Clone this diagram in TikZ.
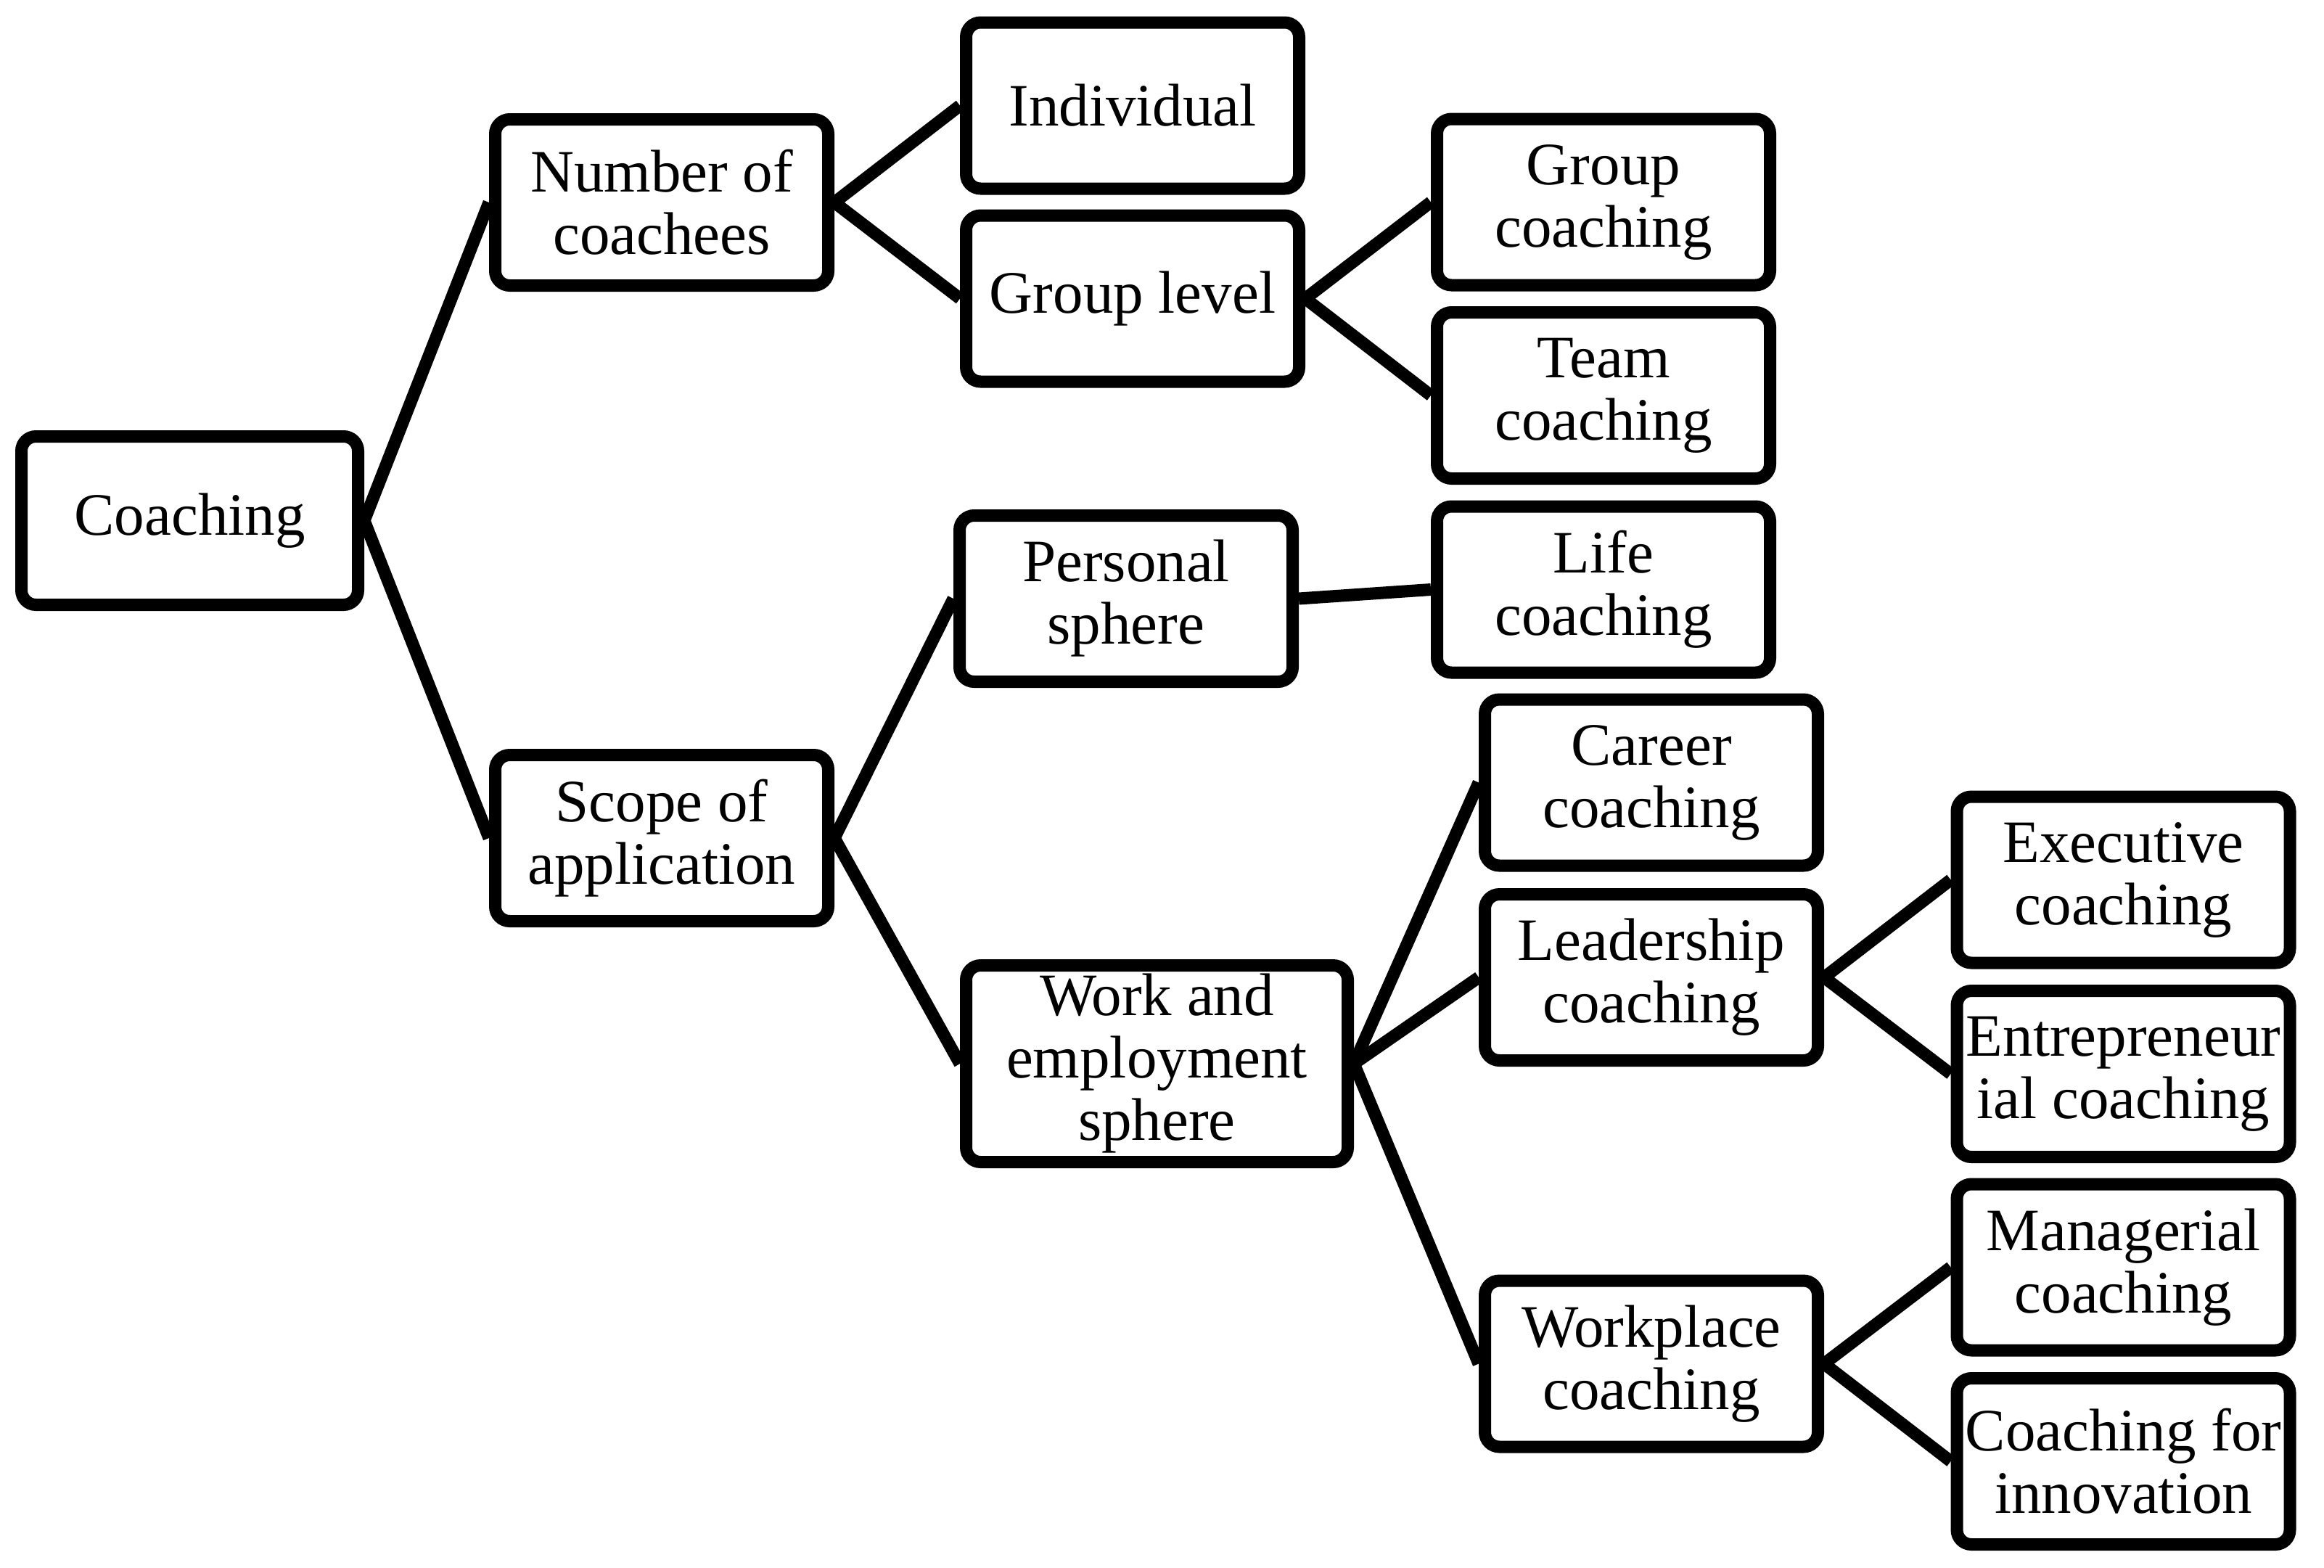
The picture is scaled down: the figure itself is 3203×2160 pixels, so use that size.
\documentclass[tikz,border=0pt]{standalone}
\usepackage{fontspec}
\setmainfont{Liberation Serif}
\begin{document}
\begin{tikzpicture}[x=1pt,y=-1pt,
  box/.style={draw=black, line width=17pt, rounded corners=20pt,
    minimum width=459pt, minimum height=229pt, inner sep=0pt,
    align=center, font=\fontsize{83}{86}\selectfont},
  link/.style={draw=black, line width=17pt}]
\useasboundingbox[fill=white] (0,0) rectangle (3203,2160);
\node[box, minimum width=464pt, minimum height=232pt] (coach) at (261.5,717.5) {Coaching};
\node[box] (num) at (912,279) {Number of\\coachees};
\node[box] (scope) at (912,1155) {Scope of\\application};
\node[box] (indiv) at (1561,145.5) {Individual};
\node[box] (glevel) at (1561,411.5) {Group level};
\node[box] (gcoach) at (2210,278.5) {Group\\coaching};
\node[box] (team) at (2210,545) {Team\\coaching};
\node[box] (pers) at (1552,825) {Personal\\sphere};
\node[box] (life) at (2210,812.5) {Life\\coaching};
\node[box, minimum width=526pt, minimum height=271pt] (work) at (1594.5,1466) {Work and\\employment\\sphere};
\node[box] (career) at (2276,1078.5) {Career\\coaching};
\node[box] (lead) at (2276,1347) {Leadership\\coaching};
\node[box] (wplace) at (2276,1879.5) {Workplace\\coaching};
\node[box] (exec) at (2926.5,1212.5) {Executive\\coaching};
\node[box] (entr) at (2926.5,1480) {Entrepreneur\\ial coaching};
\node[box] (manag) at (2926.5,1746.5) {Managerial\\coaching};
\node[box] (innov) at (2926.5,2014) {Coaching for\\innovation};
\draw[link] (coach.east) -- (num.west);
\draw[link] (coach.east) -- (scope.west);
\draw[link] (num.east) -- (indiv.west);
\draw[link] (num.east) -- (glevel.west);
\draw[link] (glevel.east) -- (gcoach.west);
\draw[link] (glevel.east) -- (team.west);
\draw[link] (scope.east) -- (pers.west);
\draw[link] (scope.east) -- (work.west);
\draw[link] (pers.east) -- (life.west);
\draw[link] (work.east) -- (career.west);
\draw[link] (work.east) -- (lead.west);
\draw[link] (work.east) -- (wplace.west);
\draw[link] (lead.east) -- (exec.west);
\draw[link] (lead.east) -- (entr.west);
\draw[link] (wplace.east) -- (manag.west);
\draw[link] (wplace.east) -- (innov.west);
\end{tikzpicture}
\end{document}
